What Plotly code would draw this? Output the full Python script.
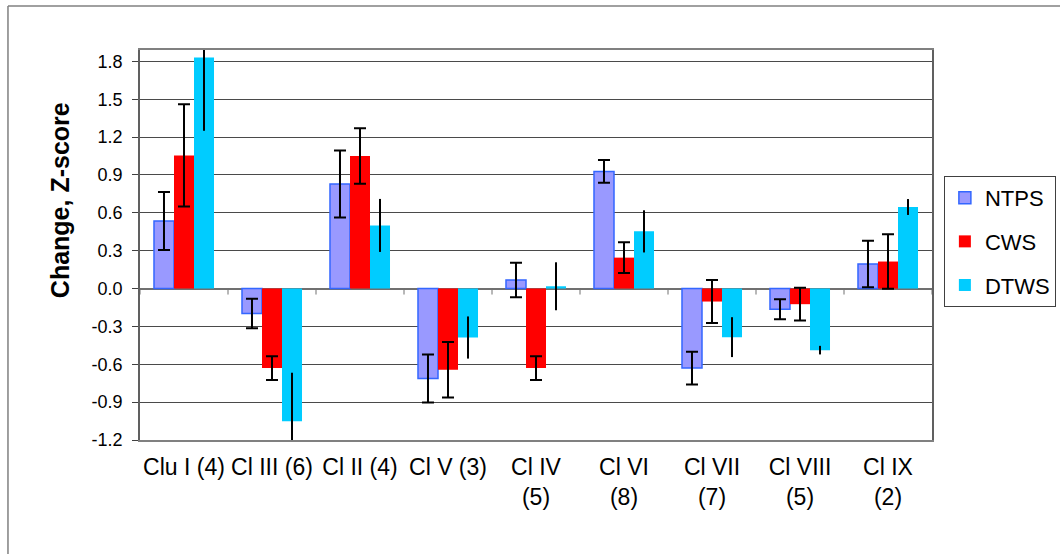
import plotly.graph_objects as go

categories = ['Clu I (4)', 'Cl III (6)', 'Cl II (4)', 'Cl V (3)', 'Cl IV<br>(5)',
              'Cl VI<br>(8)', 'Cl VII<br>(7)', 'Cl VIII<br>(5)', 'Cl IX<br>(2)']
ntps = [0.535, -0.198, 0.828, -0.712, 0.068, 0.928, -0.63, -0.164, 0.195]
ntps_err = [0.23, 0.117, 0.265, 0.19, 0.137, 0.09, 0.13, 0.08, 0.184]
cws = [1.055, -0.63, 1.05, -0.644, -0.63, 0.245, -0.103, -0.124, 0.214]
cws_err = [0.405, 0.094, 0.22, 0.22, 0.094, 0.121, 0.17, 0.13, 0.216]
dtws = [1.83, -1.052, 0.50, -0.388, 0.018, 0.453, -0.385, -0.488, 0.646]
dtws_err = [0.58, 0.385, 0.21, 0.167, 0.19, 0.167, 0.158, 0.034, 0.063]
y_ticks = [-1.2, -0.9, -0.6, -0.3, 0.0, 0.3, 0.6, 0.9, 1.2, 1.5, 1.8]
y_tick_text = [f'{v:.1f}' for v in y_ticks]

FONT = 'Liberation Sans, Arial, sans-serif'

fig = go.Figure()
fig.add_trace(go.Bar(
    name='NTPS', x=categories, y=ntps, legendgroup='a',
    marker=dict(color='#9999FF', line=dict(color='#3366FF', width=1.5)),
    error_y=dict(type='data', array=ntps_err, color='black', thickness=2, width=6),
))
fig.add_trace(go.Bar(
    name='CWS', x=categories, y=cws, legendgroup='b',
    marker=dict(color='#FF0000', line=dict(width=0)),
    error_y=dict(type='data', array=cws_err, color='black', thickness=2, width=6),
))
fig.add_trace(go.Bar(
    name='DTWS', x=categories, y=dtws, legendgroup='c',
    marker=dict(color='#00CCFF', line=dict(width=0)),
    error_y=dict(type='data', array=dtws_err, color='black', thickness=2, width=0),
))

# category boundary tick marks on the zero line
shapes = []
for i in range(len(categories) + 1):
    shapes.append(dict(type='line', xref='x', yref='y', ysizemode='pixel', yanchor=0,
                       x0=i - 0.5, x1=i - 0.5, y0=0, y1=-6,
                       line=dict(color='#707070', width=1)))
# outer chart frame (left and top edges)
shapes.append(dict(type='line', xref='paper', yref='paper', x0=-0.1667, x1=-0.1667,
                   y0=-0.3, y1=1.1128, line=dict(color='#808080', width=1.5)))
shapes.append(dict(type='line', xref='paper', yref='paper', x0=-0.1667, x1=1.2,
                   y0=1.1128, y1=1.1128, line=dict(color='#808080', width=1.5)))

fig.update_layout(
    width=1060, height=554,
    margin=dict(l=140, r=128, t=50, b=114, autoexpand=False),
    paper_bgcolor='white', plot_bgcolor='white',
    font=dict(family=FONT, color='black'),
    barmode='group', bargap=0.318, bargroupgap=0,
    showlegend=True,
    legend=dict(x=1.015, y=0.677, xanchor='left', yanchor='top',
                bordercolor='#404040', borderwidth=1, bgcolor='white',
                font=dict(size=22, family=FONT), tracegroupgap=12,
                traceorder='grouped', itemwidth=30),
    shapes=shapes,
    annotations=[dict(text='<b>Change, Z-score</b>', textangle=-90,
                      xref='paper', yref='paper', x=-0.101, y=0.615,
                      xanchor='center', yanchor='middle', showarrow=False,
                      font=dict(size=25, family=FONT))],
)
fig.update_xaxes(
    type='category', showline=True, mirror=True, linecolor='#808080', linewidth=1.5,
    ticks='', showgrid=False, tickfont=dict(size=23, family=FONT),
    tickangle=0, ticklabelstandoff=6, automargin=False,
    range=[-0.5, len(categories) - 0.5],
)
fig.update_yaxes(
    range=[-1.2, 1.89], tickvals=y_ticks, ticktext=y_tick_text,
    showgrid=True, gridcolor='#4a4a4a', gridwidth=1,
    zeroline=True, zerolinecolor='#707070', zerolinewidth=1.5,
    showline=True, mirror=True, linecolor='#606060', linewidth=1.5,
    ticks='outside', ticklen=6, tickcolor='#404040',
    tickfont=dict(size=18, family=FONT), ticklabelstandoff=6, automargin=False,
)

fig.write_html('out.html')
